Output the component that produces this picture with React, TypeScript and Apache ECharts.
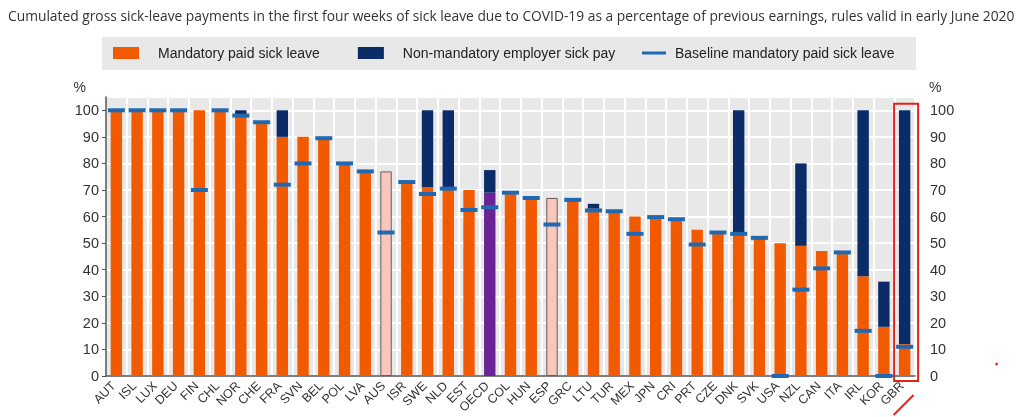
import React, { useEffect, useRef } from 'react';
import * as echarts from 'echarts';

const countries = [
  'AUT', 'ISL', 'LUX', 'DEU', 'FIN', 'CHL', 'NOR', 'CHE', 'FRA', 'SVN',
  'BEL', 'POL', 'LVA', 'AUS', 'ISR', 'SWE', 'NLD', 'EST', 'OECD', 'COL',
  'HUN', 'ESP', 'GRC', 'LTU', 'TUR', 'MEX', 'JPN', 'CRI', 'PRT', 'CZE',
  'DNK', 'SVK', 'USA', 'NZL', 'CAN', 'ITA', 'IRL', 'KOR', 'GBR',
];

// mandatory paid sick leave (% of previous earnings)
const mandatory = [
  100, 100, 100, 100, 100, 100, 98, 95, 90, 90,
  89.5, 80, 76.5, 77, 72.5, 71, 71, 70, 69, 69,
  67, 67, 66, 63, 62, 60, 59.5, 59, 55, 54,
  53.5, 51.8, 50, 49, 47, 46.5, 37.5, 18.5, 12,
];

// total incl. non-mandatory employer sick pay (null = none)
const withEmployer: (number | null)[] = [
  null, null, null, null, null, null, 100, null, 100, null,
  null, null, null, null, null, 100, 100, null, 77.5, null,
  null, null, null, 64.8, null, null, null, null, null, null,
  100, null, null, 80, null, null, 100, 35.5, 100,
];

// baseline mandatory paid sick leave
const baseline = [
  100, 100, 100, 100, 70, 100, 98, 95.5, 72, 80,
  89.5, 80, 77, 54, 73, 68.5, 70.5, 62.5, 63.5, 69,
  67, 57, 66.3, 62.3, 62, 53.5, 59.8, 59, 49.5, 54,
  53.5, 52, 0, 32.5, 40.5, 46.5, 17, 0, 11,
];

const paleCountries = ['AUS', 'ESP'];
const averageCountry = 'OECD';
const markedCountry = 'GBR';

const ORANGE = '#f25a00';
const NAVY = '#0c2c67';
const BASE_BLUE = '#1f69b3';
const FONT = '"Liberation Sans", Arial, sans-serif';

export default function App() {
  const elRef = useRef<HTMLDivElement>(null);

  useEffect(() => {
    if (!elRef.current) return;
    const chart = echarts.init(elRef.current, null, { renderer: 'svg' });

    const mandatoryData = mandatory.map((v, i) => {
      const c = countries[i];
      if (paleCountries.includes(c)) {
        return { value: v, itemStyle: { color: '#f8c6ba', borderColor: '#6e5a57', borderWidth: 1 } };
      }
      if (c === averageCountry) {
        return { value: v, itemStyle: { color: '#6a2394' } };
      }
      return v;
    });

    const employerData = withEmployer.map((t, i) => (t === null ? '-' : +(t - mandatory[i]).toFixed(2)));

    const yAxisBase = {
      type: 'value',
      min: 0,
      max: 105,
      interval: 10,
    };

    chart.setOption({
      animation: false,
      title: {
        text: 'Cumulated gross sick-leave payments in the first four weeks of sick leave due to COVID-19 as a percentage of previous earnings, rules valid in early June 2020',
        left: 3,
        top: 3,
        textStyle: {
          fontFamily: '"Open Sans", sans-serif',
          fontSize: 13.8,
          fontWeight: 'normal',
          color: '#333',
        },
      },
      legend: [
        {
          data: [
            { name: 'Mandatory paid sick leave', icon: 'rect' },
            { name: 'Non-mandatory employer sick pay', icon: 'rect' },
          ],
          left: 113,
          top: 46,
          padding: 0,
          itemWidth: 26,
          itemHeight: 12,
          itemGap: 38,
          selectedMode: false,
          textStyle: { fontFamily: FONT, fontSize: 14, color: '#222', padding: [0, 0, 0, 14] },
        },
        {
          data: [{ name: 'Baseline mandatory paid sick leave', icon: 'rect' }],
          left: 642,
          top: 46,
          padding: 0,
          itemWidth: 24,
          itemHeight: 3,
          selectedMode: false,
          textStyle: { fontFamily: FONT, fontSize: 14, color: '#222', padding: [0, 0, 0, 4] },
        },
      ],
      grid: { left: 106, right: 109, top: 97, bottom: 41, show: true, backgroundColor: '#e8e8e8', borderWidth: 0 },
      xAxis: {
        type: 'category',
        data: countries,
        axisLine: { lineStyle: { color: '#555', width: 1.5 } },
        axisTick: { show: false },
        splitLine: { show: true, interval: 0, lineStyle: { color: '#fff', width: 2 } },
        axisLabel: {
          interval: 0,
          rotate: 45,
          fontFamily: FONT,
          fontSize: 12.5,
          color: '#333',
          margin: 5,
          padding: [0, 4, 0, 0],
        },
      },
      yAxis: [
        {
          ...yAxisBase,
          position: 'left',
          axisLine: { show: true, lineStyle: { color: '#555', width: 1.5 } },
          axisTick: { show: true, length: 4, lineStyle: { color: '#555' } },
          splitLine: { show: true, lineStyle: { color: '#fff', width: 2 } },
          axisLabel: { showMaxLabel: false, fontFamily: FONT, fontSize: 14.5, color: '#333', margin: 7 },
        },
        {
          ...yAxisBase,
          position: 'right',
          axisLine: { show: false },
          axisTick: { show: false },
          splitLine: { show: false },
          axisLabel: { showMaxLabel: false, fontFamily: FONT, fontSize: 14.5, color: '#333', margin: 15 },
        },
      ],
      series: [
        {
          name: 'Mandatory paid sick leave',
          type: 'bar',
          stack: 'total',
          barWidth: '55%',
          itemStyle: { color: ORANGE },
          data: mandatoryData,
        },
        {
          name: 'Non-mandatory employer sick pay',
          type: 'bar',
          stack: 'total',
          barWidth: '55%',
          itemStyle: { color: NAVY },
          data: employerData,
        },
        {
          name: 'Baseline mandatory paid sick leave',
          type: 'scatter',
          symbol: 'rect',
          symbolSize: [17, 4],
          itemStyle: { color: BASE_BLUE, opacity: 1 },
          z: 10,
          data: baseline,
        },
      ],
    });

    // annotations placed relative to the axes
    const gx = chart.convertToPixel({ xAxisIndex: 0 }, markedCountry) as number;
    const yTop = chart.convertToPixel({ yAxisIndex: 0 }, 102.5) as number;
    const yZero = chart.convertToPixel({ yAxisIndex: 0 }, 0) as number;
    const y100 = chart.convertToPixel({ yAxisIndex: 0 }, 100) as number;

    chart.setOption({
      graphic: [
        {
          type: 'rect',
          z: -1,
          silent: true,
          shape: { x: 102, y: 37, width: 814, height: 33 },
          style: { fill: '#e8e8e8' },
        },
        {
          type: 'text',
          x: 86,
          y: y100 - 23,
          style: { text: '%', fontFamily: FONT, fontSize: 14, fill: '#333', align: 'right', verticalAlign: 'middle' },
        },
        {
          type: 'text',
          x: 929,
          y: y100 - 23,
          style: { text: '%', fontFamily: FONT, fontSize: 14, fill: '#333', align: 'left', verticalAlign: 'middle' },
        },
        {
          type: 'rect',
          shape: { x: gx - 10.5, y: yTop, width: 24, height: yZero - yTop + 5 },
          style: { fill: 'none', stroke: '#e3231b', lineWidth: 2 },
        },
        {
          type: 'line',
          shape: { x1: gx - 11, y1: yZero + 39, x2: gx + 9, y2: yZero + 19 },
          style: { stroke: '#e3231b', lineWidth: 2 },
        },
        {
          type: 'line',
          shape: { x1: gx + 91, y1: yZero - 11, x2: gx + 93, y2: yZero - 13 },
          style: { stroke: '#e3231b', lineWidth: 2 },
        },
      ],
    });

    return () => chart.dispose();
  }, []);

  return <div ref={elRef} style={{ position: 'fixed', left: 0, top: 0, width: 1024, height: 417 }} />;
}
